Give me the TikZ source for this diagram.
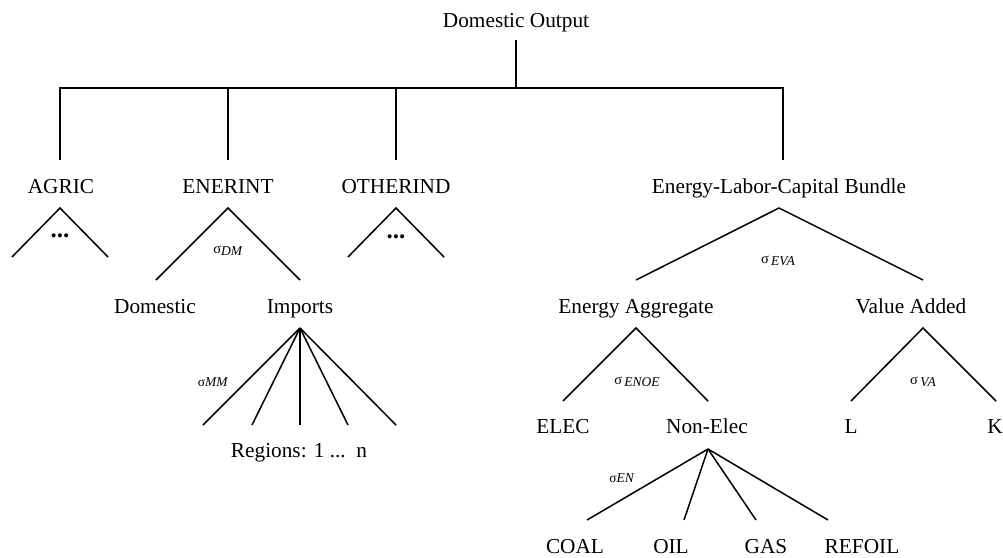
\documentclass[tikz,border=0pt]{standalone}
\usepackage{fontspec}
\setmainfont{Liberation Serif}
\newcommand{\sig}[1]{{\fontsize{14.5}{16}\selectfont σ}\raisebox{-1.5pt}{\textit{#1}}}

\begin{document}
\begin{tikzpicture}[
    x=1pt, y=-1pt,
    sector/.style={anchor=base, inner sep=0pt, font=\fontsize{21.3}{25}\selectfont},
    elast/.style={inner sep=0pt, font=\fontsize{13.5}{15}\selectfont},
    more/.style={inner sep=0pt, font=\fontsize{25}{28}\selectfont\bfseries},
    link/.style={line width=1.5pt}
]
\useasboundingbox (0,0) rectangle (1003,557);

% sectors and inputs
\node[sector] (output) at (516,27) {Domestic Output};
\node[sector] (agric) at (61,193) {AGRIC};
\node[sector] (enerint) at (228,193) {ENERINT};
\node[sector] (otherind) at (396,193) {OTHERIND};
\node[sector] (elcb) at (779,193) {Energy-Labor-Capital Bundle};
\node[sector] (dom) at (155,313) {Domestic};
\node[sector] (imports) at (300,313) {Imports};
\node[sector] (regions) at (299,457) {Regions: 1 ...\ \ n};
\node[sector] (enagg) at (636,313) {Energy Aggregate};
\node[sector] (va) at (911,313) {Value Added};
\node[sector] (elec) at (563,433) {ELEC};
\node[sector] (nonelec) at (707,433) {Non-Elec};
\node[sector] (lab) at (851,433) {L};
\node[sector] (cap) at (995,433) {K};
\node[sector] (coal) at (575,553) {COAL};
\node[sector] (oil) at (671,553) {OIL};
\node[sector] (gas) at (766,553) {GAS};
\node[sector] (refoil) at (862,553) {REFOIL};

% elasticities
\node[elast] (s-dm) at (228,251) {\sig{DM}};
\node[elast] (s-eva) at (778,261) {\sig{\,EVA}};
\node[elast] (s-mm) at (213,382) {σ\textit{MM}};
\node[elast] (s-enoe) at (637,382) {\sig{\,ENOE}};
\node[elast] (s-va) at (923,382) {\sig{\,VA}};
\node[elast] (s-en) at (622,478) {σ\textit{EN}};
\node[more] (agric-more) at (60,236) {...};
\node[more] (otherind-more) at (396,237) {...};

% top bracket
\coordinate (stem) at (516,40);
\coordinate (hub) at (516,88);
\coordinate (agric-end) at (60,160);
\coordinate (enerint-end) at (228,160);
\coordinate (otherind-end) at (396,160);
\coordinate (elcb-end) at (783,160);
\draw[link] (stem) -- (hub);
\draw[link] (agric-end) |- (elcb-end |- hub) -- (elcb-end);
\draw[link] (enerint-end) -- (enerint-end |- hub);
\draw[link] (otherind-end) -- (otherind-end |- hub);

% nests
\coordinate (agric-top) at (60,208);
\coordinate (agric-l) at (12,257);
\coordinate (agric-r) at (108,257);
\coordinate (otherind-top) at (396,208);
\coordinate (otherind-l) at (348,257);
\coordinate (otherind-r) at (444,257);
\coordinate (enerint-top) at (228,208);
\coordinate (dom-up) at (156,280);
\coordinate (imports-up) at (300,280);
\coordinate (elcb-top) at (779,208);
\coordinate (enagg-up) at (636,280);
\coordinate (va-up) at (923,280);
\coordinate (enagg-top) at (636,328);
\coordinate (elec-up) at (563,401);
\coordinate (nonelec-up) at (708,401);
\coordinate (va-top) at (923,328);
\coordinate (lab-up) at (851,401);
\coordinate (cap-up) at (996,401);
\coordinate (imports-top) at (300,328);
\coordinate (nonelec-top) at (708,449);
\foreach \x [count=\i] in {203,252,300,348,396}
  \coordinate (region-\i) at (\x,425);
\foreach \x [count=\i] in {587,684,756,828}
  \coordinate (fuel-\i) at (\x,520);

\draw[link] (agric-l) -- (agric-top) -- (agric-r);
\draw[link] (otherind-l) -- (otherind-top) -- (otherind-r);
\draw[link] (dom-up) -- (enerint-top) -- (imports-up);
\draw[link] (enagg-up) -- (elcb-top) -- (va-up);
\draw[link] (elec-up) -- (enagg-top) -- (nonelec-up);
\draw[link] (lab-up) -- (va-top) -- (cap-up);
\foreach \i in {1,...,5}
  \draw[link] (imports-top) -- (region-\i);
\foreach \i in {1,...,4}
  \draw[link] (nonelec-top) -- (fuel-\i);

\end{tikzpicture}
\end{document}
